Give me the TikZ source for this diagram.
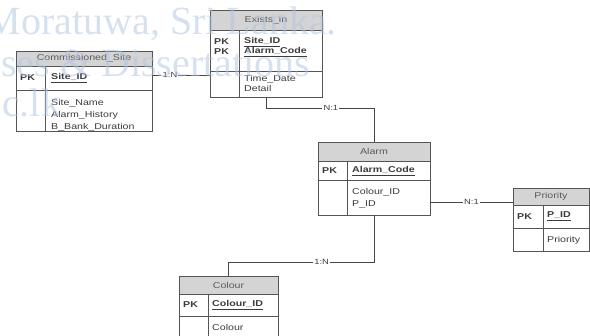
\documentclass[tikz,border=0pt]{standalone}
\usepackage{fontspec}
\setmainfont{Liberation Sans}[FakeStretch=1.25]
\newfontfamily\wmfont{Liberation Serif}
\definecolor{boxline}{RGB}{85,85,85}
\definecolor{hdrfill}{RGB}{212,212,212}
\definecolor{hdrtext}{RGB}{90,90,90}
\definecolor{bodytext}{RGB}{60,60,60}
\definecolor{linkline}{RGB}{70,70,70}
\definecolor{wmblue}{RGB}{175,196,226}

% One entity table: name, x1, y1, x2, y2, header bottom, key-row bottom, key-column divider, title
\newcommand{\ertable}[9]{%
  \fill[hdrfill] (#2,#3) rectangle (#4,#6);
  \draw[sepline] (#2,#6) -- (#4,#6);
  \draw[sepline] (#2,#7) -- (#4,#7);
  \draw[sepline] (#8,#6) -- (#8,#5);
  \node[tablebox, anchor=north west, minimum width={#4pt-#2pt}, minimum height={#5pt-#3pt}] (#1) at (#2,#3) {};
  \node[titletext] (#1-title) at ({(#2+#4)/2},{(#3+#6)/2}) {#9};
}

\begin{document}
\begin{tikzpicture}[x=1pt,y=-1pt,
  tablebox/.style={draw=boxline, line width=0.9pt, inner sep=0pt, outer sep=0pt},
  sepline/.style={draw=boxline, line width=0.8pt},
  titletext/.style={text=hdrtext, font=\fontsize{8.5}{10}\selectfont, inner sep=0pt},
  pktext/.style={text=bodytext, font=\fontsize{8.5}{10}\selectfont\bfseries, anchor=west, inner sep=0pt},
  keytext/.style={text=bodytext, font=\fontsize{8.5}{10}\selectfont\bfseries, anchor=west, inner sep=0pt},
  attrtext/.style={text=bodytext, font=\fontsize{8.5}{10}\selectfont, anchor=west, inner sep=0pt},
  link/.style={draw=linkline, line width=0.8pt},
  card/.style={fill=white, text=bodytext, font=\fontsize{7.5}{8}\selectfont, inner sep=1.2pt},
  wm/.style={text=wmblue, opacity=0.5, font=\fontsize{40}{40}\wmfont, inner sep=0pt}]
\clip (0,0) rectangle (590,336);
\fill[white] (0,0) rectangle (590,336);

% Commissioned_Site
\ertable{cs}{16}{51}{152}{131}{66}{90}{45}{Commissioned\_Site}
\node[pktext] (cs-pk) at (20,78) {PK};
\node[keytext] (cs-k1) at (51,78) {\underline{Site\_ID}};
\node[attrtext] (cs-a1) at (51,103) {Site\_Name};
\node[attrtext] (cs-a2) at (51,115) {Alarm\_History};
\node[attrtext] (cs-a3) at (51,127) {B\_Bank\_Duration};

% Exists_in
\ertable{ei}{210}{10}{322}{97}{30}{71}{239}{Exists\_in}
\node[pktext] (ei-pk1) at (214,42) {PK};
\node[pktext] (ei-pk2) at (214,52) {PK};
\node[keytext] (ei-k1) at (244,42) {\underline{Site\_ID}};
\node[keytext] (ei-k2) at (244,52) {\underline{Alarm\_Code}};
\node[attrtext] (ei-a1) at (244,79) {Time\_Date};
\node[attrtext] (ei-a2) at (244,88) {Detail};

% Alarm
\ertable{al}{318}{142}{430}{215}{161}{180}{347}{Alarm}
\node[pktext] (al-pk) at (322,171) {PK};
\node[keytext] (al-k1) at (352,171) {\underline{Alarm\_Code}};
\node[attrtext] (al-a1) at (352,192) {Colour\_ID};
\node[attrtext] (al-a2) at (352,204) {P\_ID};

% Priority
\ertable{pr}{513}{188}{589}{251}{205}{228}{543}{Priority}
\node[pktext] (pr-pk) at (517,216.5) {PK};
\node[keytext] (pr-k1) at (547,216.5) {\underline{P\_ID}};
\node[attrtext] (pr-a1) at (547,240) {Priority};

% Colour
\ertable{co}{179}{276}{278}{346}{294}{316}{208}{Colour}
\node[pktext] (co-pk) at (183,305) {PK};
\node[keytext] (co-k1) at (212,305) {\underline{Colour\_ID}};
\node[attrtext] (co-a1) at (212,327) {Colour};

% Relationships
\draw[link] (cs.east |- 0,75) -- (ei.west |- 0,75) node[card, pos=0.31] (c1) {1:N};
\draw[link] (ei.south) -- ++(0,11) -| (al.north) node[card, pos=0.3] (c2) {N:1};
\draw[link] (al.east |- 0,202) -- (pr.west |- 0,202) node[card, midway] (c3) {N:1};
\draw[link] (al.south) |- (co.north |- 0,262) node[card, pos=0.68] (c4) {1:N} -- (co.north);

% Library watermark
\node[wm, anchor=base east] (wm1) at (337,35) {Moratuwa, Sri Lanka.};
\node[wm, anchor=base west] (wm2) at (1,77) {ses \& Dissertations};
\node[wm, anchor=base west] (wm3) at (2,117) {c.lk};
\end{tikzpicture}
\end{document}
